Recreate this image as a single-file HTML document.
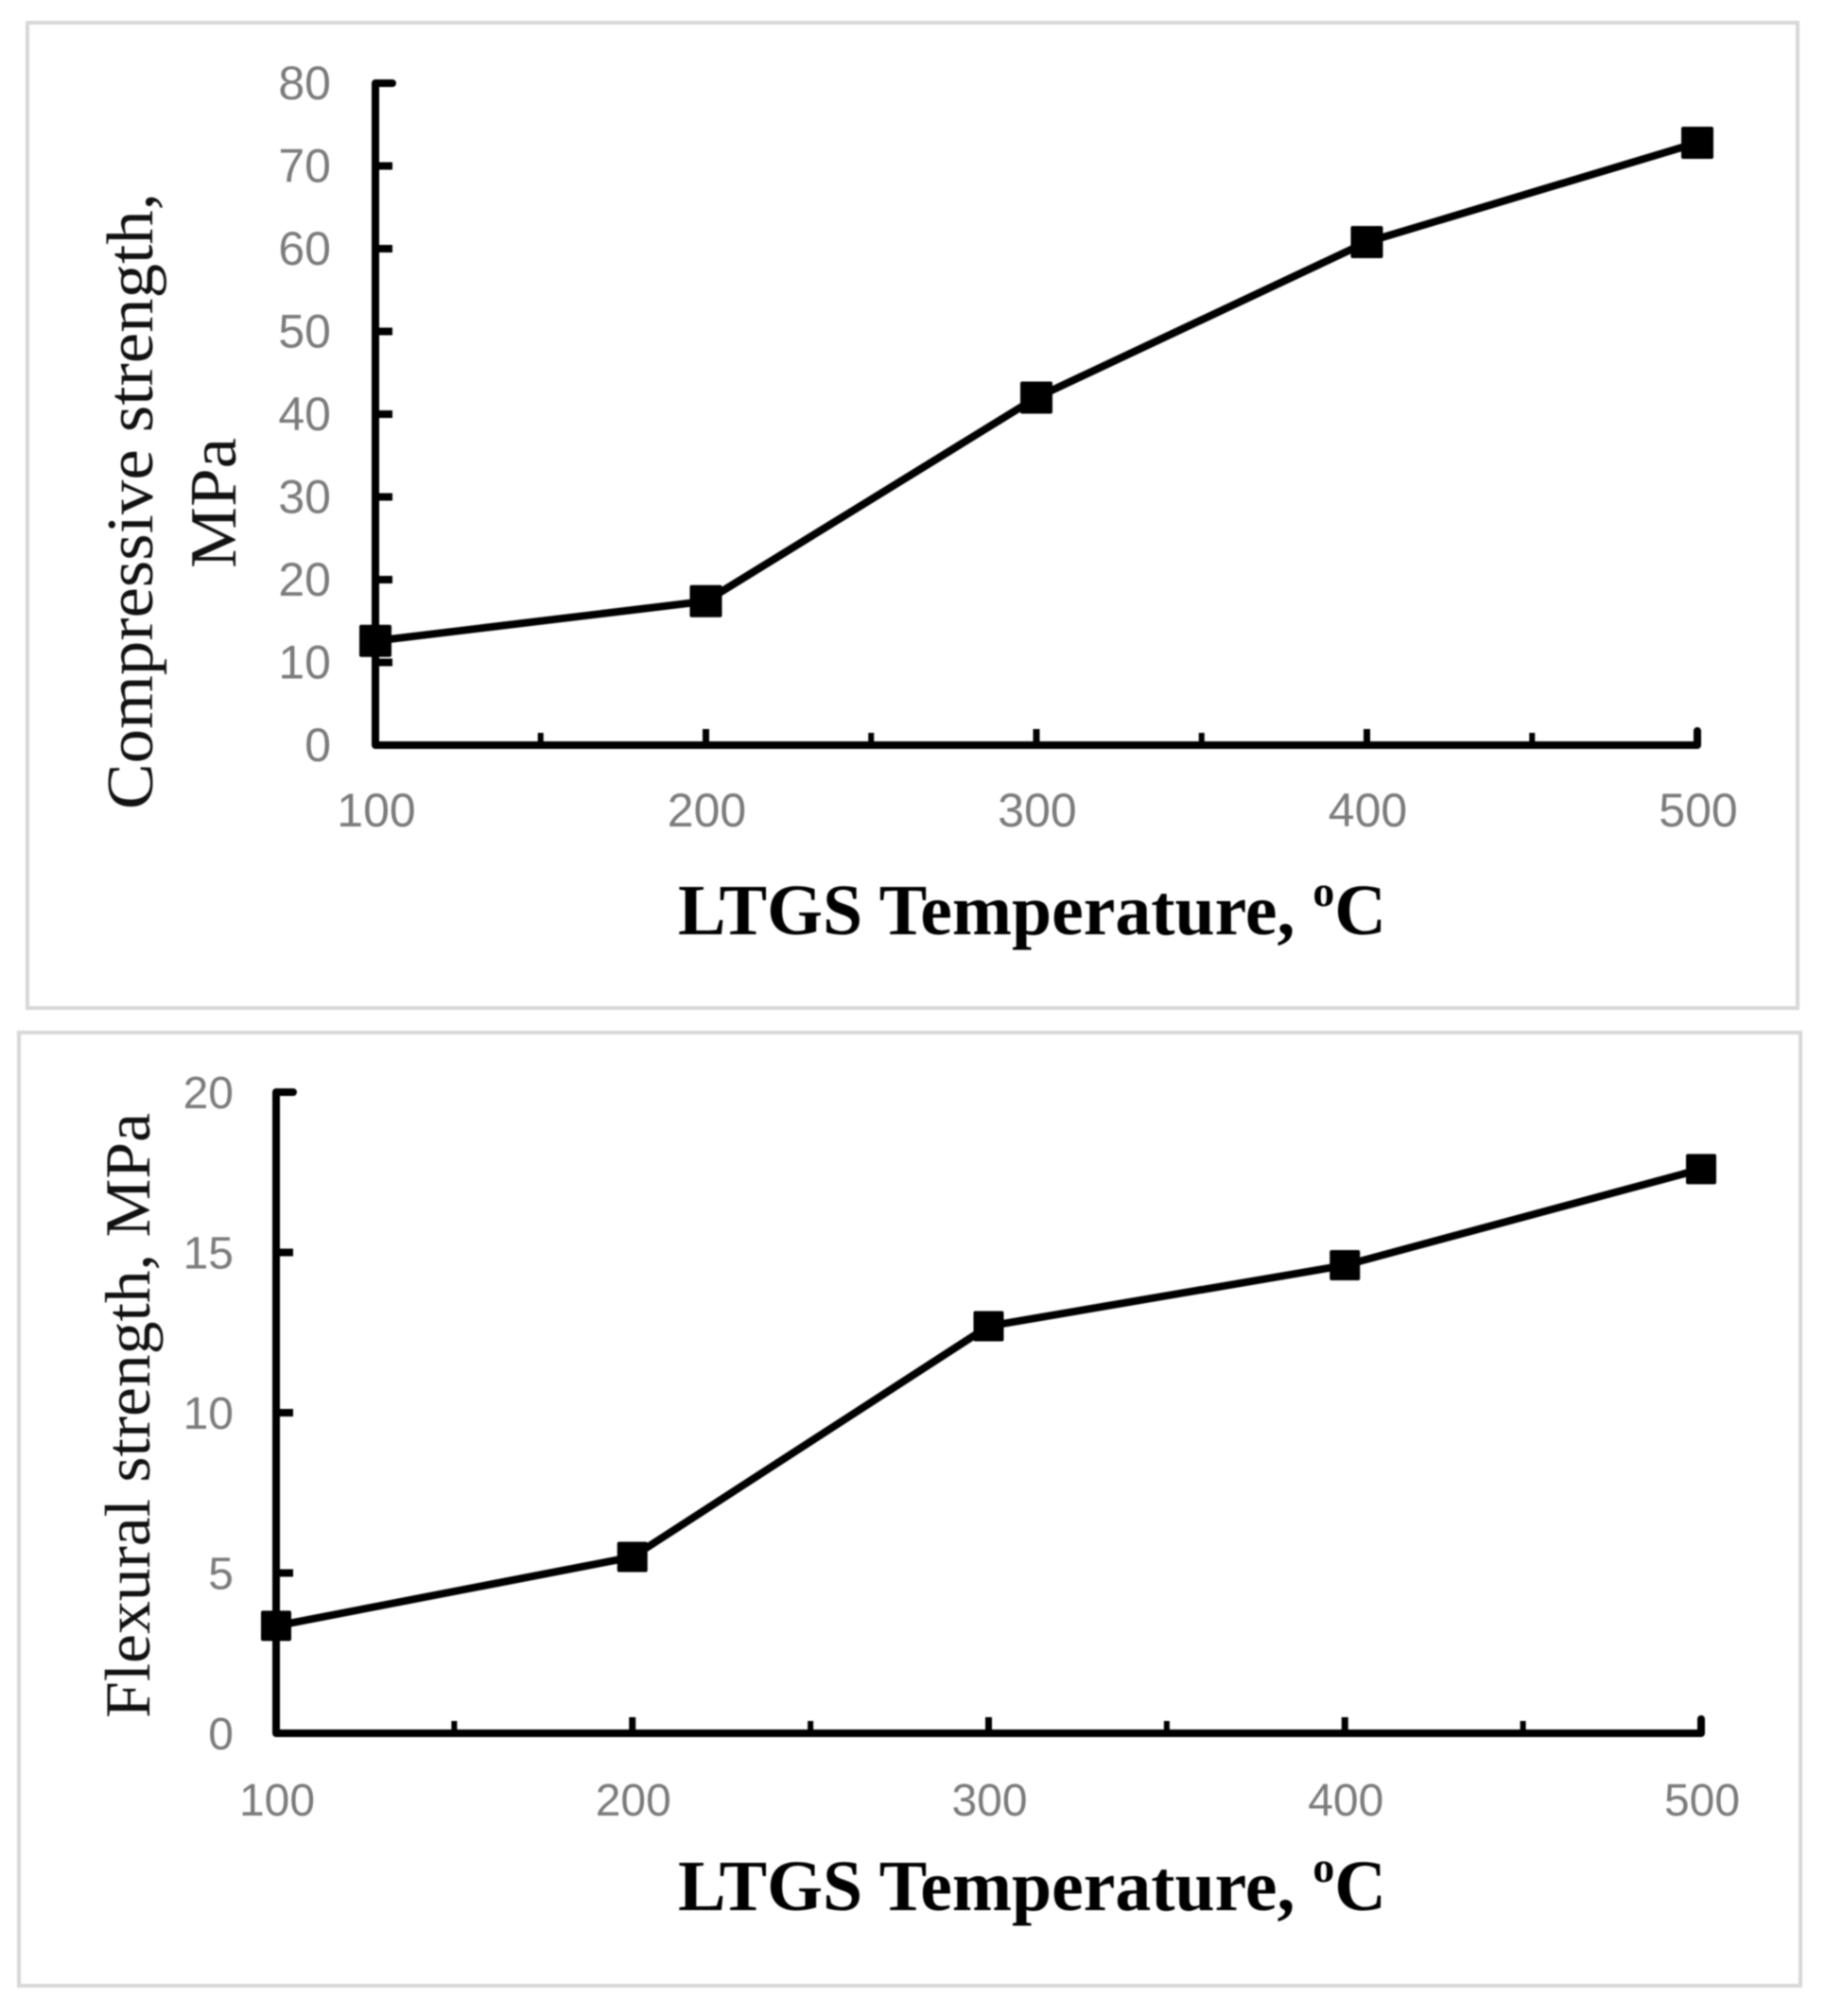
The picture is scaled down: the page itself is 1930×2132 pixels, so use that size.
<!DOCTYPE html>
<html lang="en">
<head>
<meta charset="utf-8">
<title>Compressive and flexural strength vs LTGS temperature</title>
<style>
  html, body { margin: 0; padding: 0; background: #fff; }
  svg { display: block; filter: blur(0.7px); }
  .tick { font-family: "Liberation Sans", sans-serif; fill: #7b7b7b; }
  .ttl { font-family: "Liberation Serif", serif; font-size: 70px; fill: #111; }
  .xt { font-family: "Liberation Serif", serif; font-weight: bold; font-size: 76px; fill: #000; }
</style>
</head>
<body>
<svg id="fig" xmlns="http://www.w3.org/2000/svg" width="1930" height="2132" viewBox="0 0 1930 2132">
  <rect x="0" y="0" width="1930" height="2132" fill="#ffffff"/>
  <rect x="29" y="24" width="1872" height="1042" fill="#ffffff" stroke="#d8d8d8" stroke-width="4"/>
  <rect x="20" y="1092" width="1884" height="1008" fill="#ffffff" stroke="#d8d8d8" stroke-width="4"/>

  <text class="ttl" transform="translate(161 856) rotate(-90)" textLength="652" lengthAdjust="spacingAndGlyphs">Compressive strength,</text>
  <text class="ttl" transform="translate(249 601) rotate(-90)" textLength="138" lengthAdjust="spacingAndGlyphs">MPa</text>
  <text class="xt" x="717" y="988" textLength="749" lengthAdjust="spacingAndGlyphs">LTGS Temperature, <tspan font-size="46" dy="-30">o</tspan><tspan dy="30">C</tspan></text>

  <text class="ttl" style="font-size:68px" transform="translate(158 1817) rotate(-90)" textLength="640" lengthAdjust="spacingAndGlyphs">Flexural strength, MPa</text>
  <text class="xt" x="717" y="2020" textLength="749" lengthAdjust="spacingAndGlyphs">LTGS Temperature, <tspan font-size="46" dy="-30">o</tspan><tspan dy="30">C</tspan></text>
</svg>
<script>
const temperatures = [100, 200, 300, 400, 500];
const minorTemperatures = [150, 250, 350, 450];
const compressiveStrength = [12.6, 17.4, 42, 60.8, 72.8];
const compressiveTicks = [0, 10, 20, 30, 40, 50, 60, 70, 80];
const flexuralStrength = [3.35, 5.5, 12.7, 14.6, 17.6];
const flexuralTicks = [0, 5, 10, 15, 20];

const svg = document.getElementById('fig');
const NS = 'http://www.w3.org/2000/svg';

function make(tag, attrs, parent) {
  const el = document.createElementNS(NS, tag);
  Object.keys(attrs).forEach(function (k) { el.setAttribute(k, attrs[k]); });
  parent.appendChild(el);
  return el;
}

function drawChart(prefix, cats, minors, values, yTicks, box) {
  const xScale = function (v) { return box.x0 + (v - 100) * (box.x1 - box.x0) / 400; };
  const yScale = function (v) { return box.y0 + (v - yTicks[0]) * (box.y1 - box.y0) / (yTicks[yTicks.length - 1] - yTicks[0]); };
  const topY = yScale(yTicks[yTicks.length - 1]);
  const baseY = yScale(yTicks[0]);

  const g = make('g', {}, svg);
  
  

  const axis = make('path', {
    d: 'M' + (box.x0 + 18) + ' ' + topY + ' H' + box.x0 + ' V' + baseY + ' H' + box.x1 + ' V' + (baseY - 15),
    fill: 'none', stroke: '#000', 'stroke-width': 8, 'stroke-linejoin': 'round', 'stroke-linecap': 'round'
  }, g);
  
  

  yTicks.forEach(function (t) {
    if (t !== yTicks[0] && t !== yTicks[yTicks.length - 1]) {
      const m = make('line', { x1: box.x0, x2: box.x0 + 18, y1: yScale(t), y2: yScale(t), stroke: '#000', 'stroke-width': 8 }, g);
      
      
    }
    const lab = make('text', { x: box.yLabelX, y: yScale(t) + 17, 'text-anchor': 'end', class: 'tick', 'font-size': box.fontSize }, g);
    lab.textContent = String(t);
    
    
  });

  cats.forEach(function (c, i) {
    if (i > 0 && i < cats.length - 1) {
      const m = make('line', { x1: xScale(c), x2: xScale(c), y1: baseY, y2: baseY - 17, stroke: '#000', 'stroke-width': 7 }, g);
      
      
    }
    const lab = make('text', { x: xScale(c) + 1, y: box.xLabelY, 'text-anchor': 'middle', class: 'tick', 'font-size': box.fontSize }, g);
    lab.textContent = String(c);
    
    
  });

  minors.forEach(function (c) {
    const m = make('line', { x1: xScale(c), x2: xScale(c), y1: baseY, y2: baseY - 13, stroke: '#000', 'stroke-width': 6 }, g);
    
    
  });

  const pts = cats.map(function (c, i) { return xScale(c) + ',' + yScale(values[i]); }).join(' ');
  const line = make('polyline', { points: pts, fill: 'none', stroke: '#000', 'stroke-width': 8, 'stroke-linejoin': 'round' }, g);
  
  

  cats.forEach(function (c, i) {
    const s = box.marker;
    const r = make('rect', { x: xScale(c) - s / 2, y: yScale(values[i]) - s / 2, width: s, height: s, rx: 2, fill: '#000' }, g);
    
    
  });
}

drawChart('compressive', temperatures, minorTemperatures, compressiveStrength, compressiveTicks,
  { x0: 397, x1: 1795, y0: 788, y1: 88, yLabelX: 350, xLabelY: 874, marker: 34, fontSize: 50 });
drawChart('flexural', temperatures, minorTemperatures, flexuralStrength, flexuralTicks,
  { x0: 292, x1: 1799, y0: 1833, y1: 1155, yLabelX: 247, xLabelY: 1920, marker: 32, fontSize: 48 });
</script>
</body>
</html>
